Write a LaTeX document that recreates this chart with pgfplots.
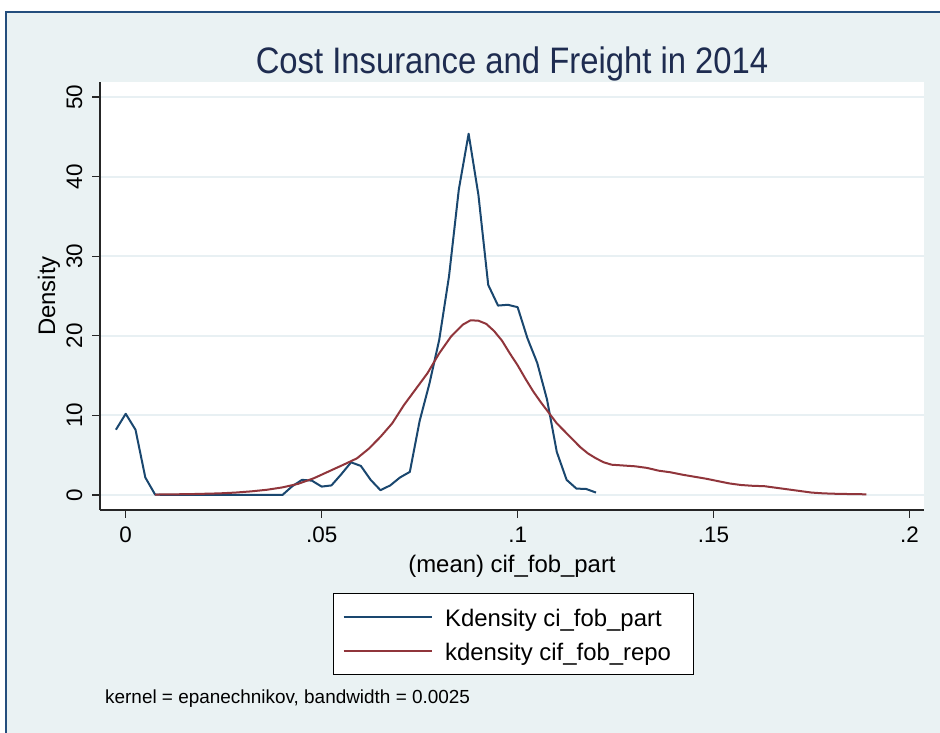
\documentclass[border=0pt]{standalone}
\usepackage{pgfplots}
\pgfplotsset{compat=1.18}
\usepackage{pgfplotstable}
\usepackage{fontspec}
\setmainfont{Liberation Sans}
\newfontfamily\titlefont[FakeStretch=0.89]{Liberation Sans}

\definecolor{bgcol}{RGB}{234,242,243}
\definecolor{gridcol}{RGB}{232,240,243}
\definecolor{framecol}{RGB}{36,78,125}
\definecolor{stnavy}{RGB}{26,71,111}
\definecolor{stmaroon}{RGB}{144,53,59}
\definecolor{titlecol}{RGB}{30,44,80}

% kernel density of ci_fob_part (50 evaluation points)
\pgfplotstableread{
x        y
-0.0025  8.2
0.0000   10.2
0.0025   8.2
0.0050   2.2
0.0075   0.05
0.0100   0
0.0125   0
0.0150   0
0.0175   0
0.0200   0
0.0225   0
0.0250   0
0.0275   0
0.0300   0
0.0325   0
0.0350   0
0.0375   0
0.0400   0
0.0425   1.1
0.0450   1.9
0.0475   1.8
0.0500   1.05
0.0525   1.2
0.0550   2.6
0.0575   4.1
0.0600   3.65
0.0625   1.9
0.0650   0.6
0.0675   1.2
0.0700   2.2
0.0725   2.9
0.0750   9.3
0.0775   14.0
0.0800   19.5
0.0825   27.5
0.0850   38.4
0.0875   45.4
0.0900   37.7
0.0925   26.4
0.0950   23.8
0.0975   23.9
0.1000   23.6
0.1025   19.7
0.1050   16.6
0.1075   12.0
0.1100   5.4
0.1125   1.9
0.1150   0.8
0.1175   0.75
0.1200   0.3
}\partdata

% kernel density of cif_fob_repo
\pgfplotstableread{
x       y
0.0075  0.05
0.0120  0.08
0.0160  0.10
0.0200  0.15
0.0240  0.20
0.0280  0.30
0.0320  0.45
0.0360  0.65
0.0400  0.95
0.0440  1.40
0.0480  2.10
0.0520  3.00
0.0560  3.90
0.0590  4.60
0.0620  5.80
0.0650  7.30
0.0680  9.00
0.0710  11.3
0.0740  13.3
0.0770  15.3
0.0800  17.8
0.0830  19.9
0.0860  21.4
0.0880  21.95
0.0900  21.9
0.0920  21.5
0.0940  20.6
0.0960  19.4
0.0980  17.8
0.1000  16.3
0.1020  14.6
0.1040  13.0
0.1060  11.6
0.1080  10.3
0.1100  9.0
0.1120  8.0
0.1140  7.0
0.1160  6.0
0.1180  5.2
0.1200  4.6
0.1220  4.1
0.1240  3.8
0.1270  3.7
0.1300  3.6
0.1330  3.4
0.1360  3.05
0.1390  2.85
0.1420  2.55
0.1450  2.3
0.1480  2.05
0.1510  1.75
0.1540  1.45
0.1570  1.25
0.1600  1.15
0.1630  1.10
0.1660  0.90
0.1690  0.70
0.1720  0.50
0.1750  0.30
0.1780  0.20
0.1810  0.15
0.1840  0.12
0.1890  0.08
}\repodata

\begin{document}
\begin{tikzpicture}[x=1bp,y=1bp]
\path[use as bounding box] (0,0) rectangle (940,733);
\fill[white] (0,0) rectangle (940,733);
\fill[bgcol] (6,0) rectangle (940,721);
\draw[framecol, line width=2.4bp] (6,-3) -- (6,721) -- (943,721);

\begin{axis}[
  at={(100bp,223bp)}, anchor=south west,
  scale only axis, width=824bp, height=428bp,
  xmin=-0.00656, xmax=0.2037, ymin=-1.89, ymax=51.9,
  axis background/.style={fill=white},
  axis x line*=bottom, axis y line*=left,
  axis line style={line width=1.3bp, black!85, -},
  tick align=outside, major tick length=8bp,
  tick style={line width=1.3bp, black!85},
  xtick={0,0.05,0.1,0.15,0.2},
  xticklabels={0,.05,.1,.15,.2},
  ytick={0,10,20,30,40,50},
  /pgf/number format/assume math mode=true,
  ticklabel style={font=\fontsize{22.5}{26}\selectfont},
  xticklabel style={anchor=north, inner xsep=0pt, inner ysep=9bp},
  yticklabel style={rotate=90, anchor=south, inner xsep=0pt, inner ysep=9.5bp},
  ymajorgrids, grid style={gridcol, line width=2bp},
  title={Cost Insurance and Freight in 2014},
  title style={at={(axis description cs:0.5,1.007)}, anchor=base,
    font=\titlefont\fontsize{37}{40}\selectfont, text=titlecol, inner sep=0pt},
  xlabel={(mean) cif\_fob\_part},
  xlabel style={at={(axis description cs:0.5,-0.1449)}, anchor=base,
    font=\fontsize{24}{28}\selectfont, inner sep=0pt},
  ylabel={Density},
  ylabel style={at={(axis description cs:-0.0546,0.5)}, anchor=base,
    font=\fontsize{24}{28}\selectfont, inner sep=0pt},
  legend style={at={(axis description cs:0.2831,-0.1946)}, anchor=north west,
    draw=black, line width=1.2bp, fill=white, inner sep=8.8bp,
    row sep=5.3bp, column sep=12bp,
    font=\fontsize{24}{28}\selectfont,
    nodes={inner sep=0pt, text height=23.5bp, text depth=5.5bp}},
  legend cell align=left,
  legend image code/.code={\draw[#1] (0bp,0bp) -- (88.4bp,0bp);},
]
\addplot[stnavy, line width=2bp, line join=round] table[x=x, y=y] {\partdata};
\addlegendentry{\makebox[240bp][l]{Kdensity ci\_fob\_part}}
\addplot[stmaroon, line width=2bp, line join=round] table[x=x, y=y] {\repodata};
\addlegendentry{\makebox[240bp][l]{kdensity cif\_fob\_repo}}
\end{axis}

\node[anchor=base west, inner sep=0pt, font=\fontsize{19}{22}\selectfont]
  at (105,29) {kernel = epanechnikov, bandwidth = 0.0025};
\end{tikzpicture}
\end{document}
